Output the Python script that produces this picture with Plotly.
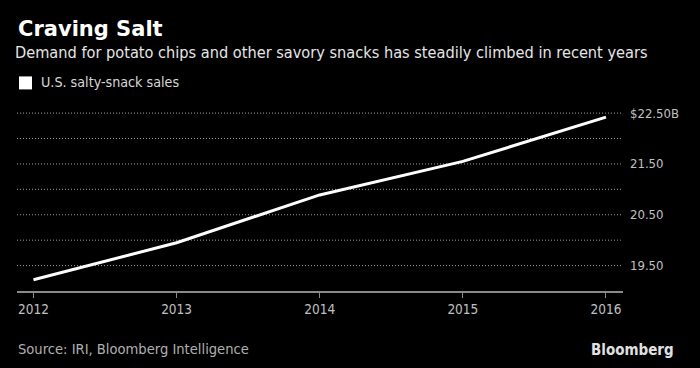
import plotly.graph_objects as go

years = [2012, 2013, 2014, 2015, 2016]
sales = [19.22, 19.95, 20.89, 21.55, 22.42]
tick_vals = [19.5, 20.5, 21.5, 22.5]
tick_text = ["19.50", "20.50", "21.50", "$22.50B"]
grid_vals = [19.5, 20.0, 20.5, 21.0, 21.5, 22.0, 22.5]

W, H = 700, 368
ml, mr, mt, mb = 17, 77, 107.6, 77.3
FONT = "DejaVu Sans Condensed"

fig = go.Figure()
fig.add_trace(go.Scatter(x=years, y=sales, mode="lines",
                         line=dict(color="white", width=3),
                         name="U.S. salty-snack sales", showlegend=False))

# dotted gridlines
for g in grid_vals:
    fig.add_shape(type="line", xref="paper", x0=0, x1=1, yref="y", y0=g, y1=g,
                  line=dict(color="#9a9a9a", width=1, dash="1px,2px"), layer="below")

def px_x(p):
    return (p - ml) / (W - ml - mr)

def px_y(p):
    return 1 - (p - mt) / (H - mt - mb)

fig.update_layout(
    width=W, height=H,
    paper_bgcolor="black", plot_bgcolor="black",
    margin=dict(l=ml, r=mr, t=mt, b=mb),
    font=dict(family=FONT, color="#c8c8c8", size=13),
    xaxis=dict(range=[2011.885, 2016.119], tickvals=years, ticktext=[str(y) for y in years],
               showgrid=False, zeroline=False, showline=True, linecolor="#8a8a8a", linewidth=2,
               ticks="outside", ticklen=5, tickcolor="#8a8a8a", tickwidth=1,
               tickfont=dict(size=13.5, color="#c0c0c0", family=FONT)),
    yaxis=dict(range=[19.0, 22.6], side="right", tickvals=tick_vals, ticktext=tick_text,
               showgrid=False, zeroline=False, showline=False, ticks="",
               ticklabelstandoff=6,
               tickfont=dict(size=13, color="#c0c0c0", family=FONT)),
    showlegend=False,
)

annots = [
    dict(text="<b>Craving Salt</b>", x=16, y=29, size=21, color="white", family="DejaVu Sans"),
    dict(text="Demand for potato chips and other savory snacks has steadily climbed in recent years",
         x=13, y=52, size=16.2, color="#e6e6e6", family=FONT),
    dict(text="U.S. salty-snack sales", x=39, y=82, size=14.2, color="#d8d8d8", family=FONT),
    dict(text="Source: IRI, Bloomberg Intelligence", x=16, y=348, size=14.6, color="#b0b0b0", family=FONT),
]
for a in annots:
    fig.add_annotation(text=a["text"], xref="paper", yref="paper",
                       x=px_x(a["x"]), y=px_y(a["y"]), xanchor="left", yanchor="middle",
                       showarrow=False, font=dict(size=a["size"], color=a["color"], family=a["family"]))
fig.add_annotation(text="<b>Bloomberg</b>", xref="paper", yref="paper",
                   x=px_x(676), y=px_y(350), xanchor="right", yanchor="middle", showarrow=False,
                   font=dict(size=15, color="#e0e0e0", family="Liberation Sans Narrow, " + FONT))

fig.add_shape(type="rect", xref="paper", yref="paper",
              x0=px_x(19), x1=px_x(32), y0=px_y(89), y1=px_y(76),
              fillcolor="white", line=dict(width=0))

fig.write_html("out.html", config={"displayModeBar": False},
               post_script="document.body.style.margin='0';document.body.style.background='black';")
